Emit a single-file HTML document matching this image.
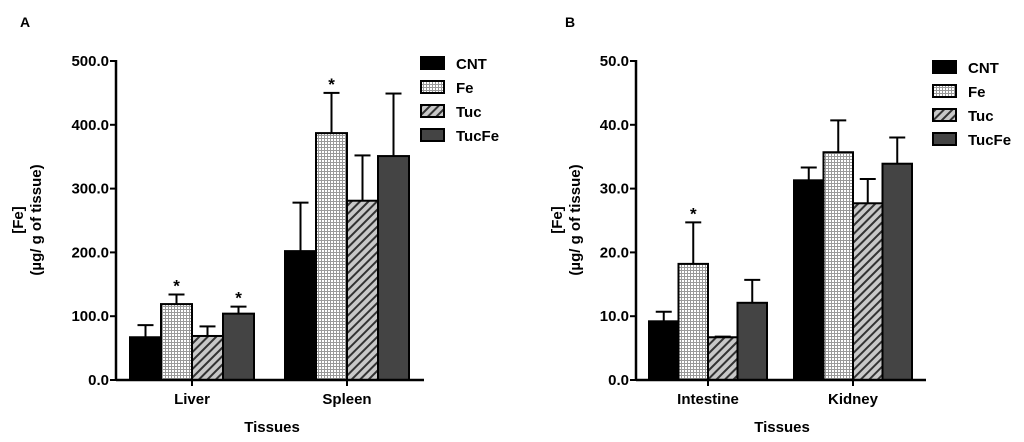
<!DOCTYPE html>
<html><head><meta charset="utf-8"><style>
body{margin:0;background:#fff}
svg{display:block;font-family:"Liberation Sans",Arial,sans-serif;font-weight:bold}
</style></head><body>
<svg id="c" width="1024" height="442" viewBox="0 0 1024 442" xmlns="http://www.w3.org/2000/svg">
<defs>
<pattern id="grid" width="3" height="3" patternUnits="userSpaceOnUse"><rect width="3" height="3" fill="#fff"/><path d="M0 0.5H3M0.5 0V3" stroke="#999" stroke-width="1"/></pattern>
<pattern id="hatch" width="6" height="6" patternUnits="userSpaceOnUse" patternTransform="rotate(45)"><rect width="6" height="6" fill="#c8c8c8"/><rect width="2" height="6" fill="#333"/></pattern>
</defs>
<text x="20" y="27" font-size="14">A</text>
<text x="565" y="27" font-size="14">B</text>
</svg>
<script>
const seriesNames=["CNT","Fe","Tuc","TucFe"];
const catsA=["Liver","Spleen"];
const meanA=[[67,119,69,104],[202,387,281,351]];
const errA=[[86,134,84,115],[278,450,352,449]];
const starA=[[0,1,0,1],[0,1,0,0]];
const ticksA=["0.0","100.0","200.0","300.0","400.0","500.0"];
const catsB=["Intestine","Kidney"];
const meanB=[[9.2,18.2,6.7,12.1],[31.3,35.7,27.7,33.9]];
const errB=[[10.7,24.7,6.8,15.7],[33.3,40.7,31.5,38.0]];
const starB=[[0,1,0,0],[0,0,0,0]];
const ticksB=["0.0","10.0","20.0","30.0","40.0","50.0"];

const fills=["#000","url(#grid)","url(#hatch)","#444"];
const svg=document.getElementById('c');
const NS="http://www.w3.org/2000/svg";
const FS=15;
function el(t,a,txt){const e=document.createElementNS(NS,t);for(const k in a)e.setAttribute(k,a[k]);if(txt!=null)e.textContent=txt;svg.appendChild(e);return e;}

function panel(p){
  const ys=v=>p.y0-(v/p.max)*(p.y0-p.y1);
  p.ticks.forEach((t,i)=>{
    const v=parseFloat(t),y=ys(v);
    const l=el('line',{x1:p.ax-6,x2:p.ax,y1:y,y2:y,stroke:'#000','stroke-width':2});
    
    
    const tx=el('text',{x:p.ax-7,y:y+5,'font-size':FS,'text-anchor':'end'},t);
    
    
  });
  p.cats.forEach((c,ci)=>{
    const gx=p.groupX[ci];
    p.mean[ci].forEach((m,si)=>{
      const x=gx+si*p.bw, y=ys(m), ye=ys(p.err[ci][si]);
      const cx=x+p.bw/2;
      const eb=el('line',{x1:cx,x2:cx,y1:ye,y2:y,stroke:'#000','stroke-width':2});
      
      
      const cap=el('line',{x1:cx-8,x2:cx+8,y1:ye,y2:ye,stroke:'#000','stroke-width':2});
      
      
      const r=el('rect',{x:x,y:y,width:p.bw,height:p.y0-y,fill:fills[si],stroke:'#000','stroke-width':2});
      
      
      if(p.star[ci][si]){
        const s=el('text',{x:cx,y:ye-3,'font-size':17,'text-anchor':'middle'},'*');
        
        
      }
    });
    const tcx=gx+2*p.bw;
    const tk=el('line',{x1:tcx,x2:tcx,y1:p.y0,y2:p.y0+6,stroke:'#000','stroke-width':2});
    
    
    const cl=el('text',{x:tcx,y:p.y0+24,'font-size':FS,'text-anchor':'middle'},c);
    
    
  });
  const ya=el('line',{x1:p.ax,x2:p.ax,y1:p.y1-1,y2:p.y0+1,stroke:'#000','stroke-width':2.5});
  
  
  const xa=el('line',{x1:p.ax,x2:p.xr,y1:p.y0,y2:p.y0,stroke:'#000','stroke-width':2.5});
  
  
  const xt=el('text',{x:p.xtx,y:432,'font-size':FS,'text-anchor':'middle'},'Tissues');
  
  
  const yt=el('text',{transform:`translate(${p.ytx},220) rotate(-90)`,'font-size':FS,'text-anchor':'middle'});
  
  
  const t1=document.createElementNS(NS,'tspan');t1.setAttribute('x',0);t1.setAttribute('dy',0);t1.textContent='[Fe]';yt.appendChild(t1);
  const t2=document.createElementNS(NS,'tspan');t2.setAttribute('x',0);t2.setAttribute('dy',18);t2.textContent='(\u00b5g/ g of tissue)';yt.appendChild(t2);
  seriesNames.forEach((n,i)=>{
    const y=p.legY+i*24;
    const sw=el('rect',{x:p.legX,y:y-6,width:23,height:12,fill:fills[i],stroke:'#000','stroke-width':2});
    
    
    const lt=el('text',{x:p.legX+35,y:y+6,'font-size':FS},n);
    
    
  });
}
panel({cats:catsA,mean:meanA,err:errA,star:starA,ticks:ticksA,max:500,ax:116,xr:424,y0:380,y1:61,bw:31,groupX:[130,285],xtx:272,ytx:23,legX:421,legY:63});
panel({cats:catsB,mean:meanB,err:errB,star:starB,ticks:ticksB,max:50,ax:636,xr:926,y0:380,y1:61,bw:29.5,groupX:[649,794],xtx:782,ytx:562,legX:933,legY:67});
</script>
</body></html>
